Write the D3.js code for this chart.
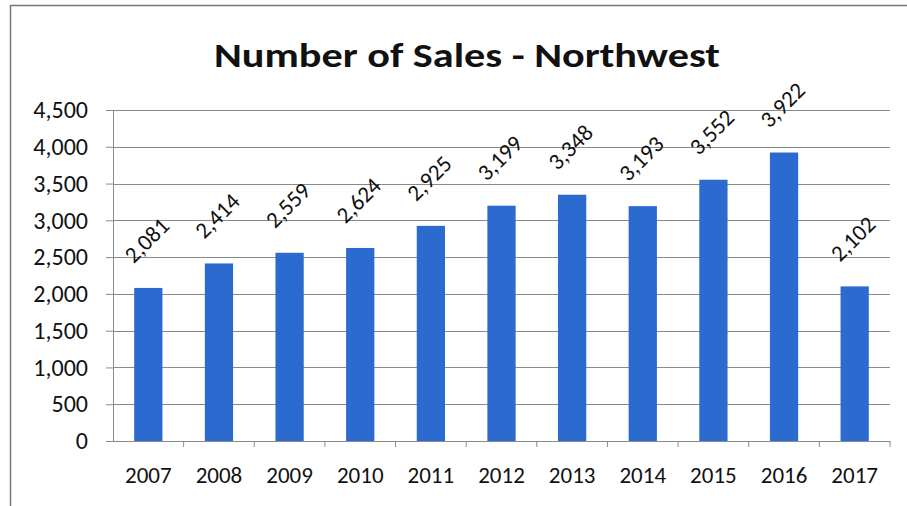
<!DOCTYPE html>
<html><head><meta charset="utf-8">
<script src="https://cdn.jsdelivr.net/npm/d3@7/dist/d3.min.js"></script>
<style>body{margin:0;background:#fff}svg{display:block}</style>
</head><body>
<svg id="c" width="907" height="506"></svg>
<script>
const years = ["2007","2008","2009","2010","2011","2012","2013","2014","2015","2016","2017"];
const sales = [2081,2414,2559,2624,2925,3199,3348,3193,3552,3922,2102];
const yTicks = [0,500,1000,1500,2000,2500,3000,3500,4000,4500];
const title = "Number of Sales - Northwest";

const svg = d3.select("#c");
const font = "Carlito, Calibri, Lato, 'Liberation Sans', sans-serif";
const L = 113, R = 890, T = 110, B = 441;

// frame
svg.append("line").attr("x1",10.5).attr("x2",907).attr("y1",5.5).attr("y2",5.5).attr("stroke","#777").attr("stroke-width",1.5);
svg.append("line").attr("x1",10.5).attr("x2",10.5).attr("y1",5).attr("y2",506).attr("stroke","#777").attr("stroke-width",1.5);

const x = d3.scaleBand().domain(years).range([L,R]).paddingInner(0.6).paddingOuter(0.3);
const xb = d3.scaleBand().domain(years).range([L,R]);
const y = d3.scaleLinear().domain([0,4500]).range([B,T]);

// gridlines
svg.append("g").selectAll("line").data(yTicks.slice(1)).join("line")
  .attr("x1",L).attr("x2",R).attr("y1",d=>Math.round(y(d))+0.5).attr("y2",d=>Math.round(y(d))+0.5)
  .attr("stroke","#8a8a8a").attr("stroke-width",1);

// y axis
const ya = svg.append("g").attr("transform",`translate(${L},0)`)
  .call(d3.axisLeft(y).tickValues(yTicks).tickFormat(d3.format(",")).tickSize(7).tickPadding(18));
ya.select(".domain").attr("stroke","#8a8a8a");
ya.selectAll(".tick line").attr("stroke","#8a8a8a");
ya.selectAll("text").attr("font-family",font).attr("font-size",24).attr("fill","#111");

// bars
svg.append("g").selectAll("rect").data(sales).join("rect")
  .attr("x",(d,i)=>x(years[i])).attr("width",x.bandwidth())
  .attr("y",d=>y(d)).attr("height",d=>B-y(d)).attr("fill","#2b6bcf");

// x axis
const xa = svg.append("g").attr("transform",`translate(0,${B})`)
  .call(d3.axisBottom(xb).tickSize(0).tickPadding(26));
xa.select(".domain").attr("stroke","#8a8a8a");
xa.selectAll("text").attr("font-family",font).attr("font-size",23).attr("fill","#111");
svg.append("g").selectAll("line").data(years.map((d,i)=>i+1)).join("line")
  .attr("x1",i=>L+i*xb.bandwidth()).attr("x2",i=>L+i*xb.bandwidth())
  .attr("y1",B).attr("y2",B+6).attr("stroke","#8a8a8a");

// data labels
svg.append("g").selectAll("text").data(sales).join("text")
  .attr("transform",(d,i)=>`translate(${xb(years[i])+xb.bandwidth()/2},${y(d)-46}) rotate(-45)`)
  .attr("text-anchor","middle").attr("dominant-baseline","middle")
  .attr("font-family",font).attr("font-size",23).attr("fill","#111")
  .text(d=>d3.format(",")(d));

// title
svg.append("text").attr("x",467).attr("y",67).attr("text-anchor","middle")
  .attr("font-family",font).attr("font-weight","bold").attr("font-size",35).attr("fill","#111")
  .attr("textLength",506).attr("lengthAdjust","spacingAndGlyphs")
  .text(title);
</script>
</body></html>
